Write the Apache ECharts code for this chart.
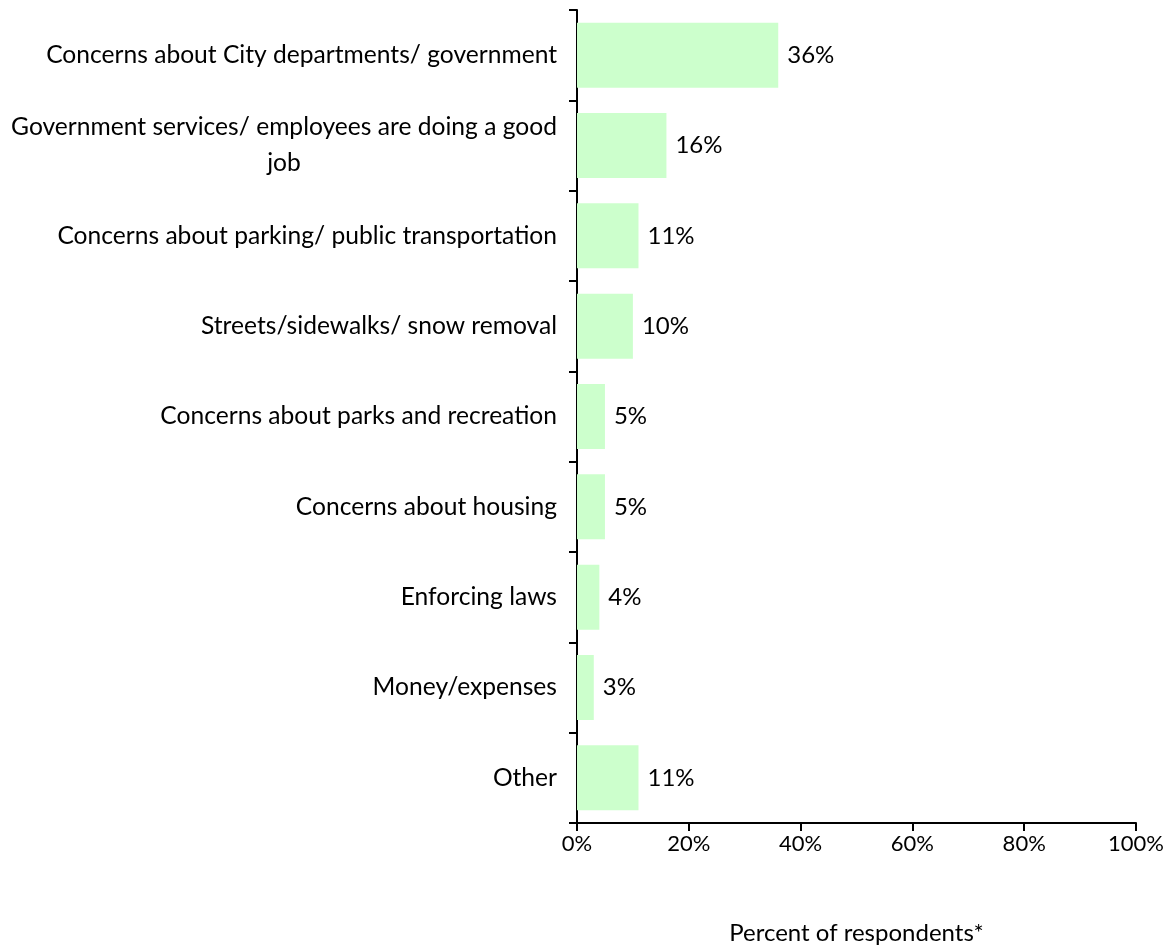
<!DOCTYPE html>
<html>
<head>
<meta charset="utf-8">
<script src="https://cdn.jsdelivr.net/npm/echarts@6/dist/echarts.min.js"></script>
<style>
  html, body { margin: 0; padding: 0; background: #fff; }
  #chart { width: 1172px; height: 947px; }
</style>
</head>
<body>
<div id="chart"></div>
<script>
// Survey topics, in display order (top to bottom)
const categories = [
  'Concerns about City departments/ government',
  'Government services/ employees are doing a good\njob',
  'Concerns about parking/ public transportation',
  'Streets/sidewalks/ snow removal',
  'Concerns about parks and recreation',
  'Concerns about housing',
  'Enforcing laws',
  'Money/expenses',
  'Other'
];
// Share of respondents mentioning each topic (%)
const percents = [36, 16, 11, 10, 5, 5, 4, 3, 11];
const xTicks = [0, 20, 40, 60, 80, 100];
const axisTitle = 'Percent of respondents*';

const FONT = 'Lato';
const CAT_SIZE = 24.6;
const VALUE_SIZE = 24;
const TICK_SIZE = 22;

// Width of the widest line of a wrapped label, so its lines can be centred under each other
function lineBlockWidth(text) {
  const ctx = document.createElement('canvas').getContext('2d');
  ctx.font = CAT_SIZE + 'px ' + FONT;
  return Math.ceil(Math.max.apply(null, text.split('\n').map(s => ctx.measureText(s).width)));
}

const chart = echarts.init(document.getElementById('chart'));

chart.setOption({
  animation: false,
  backgroundColor: '#ffffff',
  grid: { left: 577, right: 36, top: 10, bottom: 124, containLabel: false, outerBoundsMode: 'none' },
  xAxis: {
    type: 'value',
    min: xTicks[0],
    max: xTicks[xTicks.length - 1],
    interval: xTicks[1] - xTicks[0],
    name: axisTitle,
    nameLocation: 'middle',
    nameGap: 98,
    nameTextStyle: { color: '#000', fontFamily: FONT, fontSize: VALUE_SIZE },
    axisLine: { show: true, lineStyle: { color: '#000', width: 2 } },
    axisTick: { show: true, length: 8, lineStyle: { color: '#000', width: 2 } },
    axisLabel: { color: '#000', fontFamily: FONT, fontSize: TICK_SIZE, margin: 10, formatter: v => v + '%' },
    splitLine: { show: false }
  },
  yAxis: {
    type: 'category',
    inverse: true,
    data: categories,
    axisLine: { show: true, lineStyle: { color: '#000', width: 2 } },
    axisTick: { show: true, length: 8, lineStyle: { color: '#000', width: 2 } },
    axisLabel: {
      color: '#000',
      fontFamily: FONT,
      fontSize: CAT_SIZE,
      margin: 20,
      lineHeight: 36,
      formatter: function (v) {
        if (v.indexOf('\n') >= 0) {
          const w = lineBlockWidth(v);
          return v.split('\n').map(s => '{c' + w + '|' + s + '}').join('\n');
        }
        return v;
      },
      rich: (function () {
        const r = {};
        categories.filter(c => c.indexOf('\n') >= 0).forEach(c => {
          r['c' + lineBlockWidth(c)] = {
            width: lineBlockWidth(c), align: 'center',
            fontFamily: FONT, fontSize: CAT_SIZE, color: '#000', lineHeight: 36
          };
        });
        return r;
      })()
    }
  },
  series: [{
    type: 'bar',
    data: percents,
    barCategoryGap: '28%',
    itemStyle: { color: '#CCFFCC' },
    label: {
      show: true,
      position: 'right',
      distance: 9,
      color: '#000',
      fontFamily: FONT,
      fontSize: VALUE_SIZE,
      formatter: p => p.value + '%'
    }
  }]
});
</script>
</body>
</html>
